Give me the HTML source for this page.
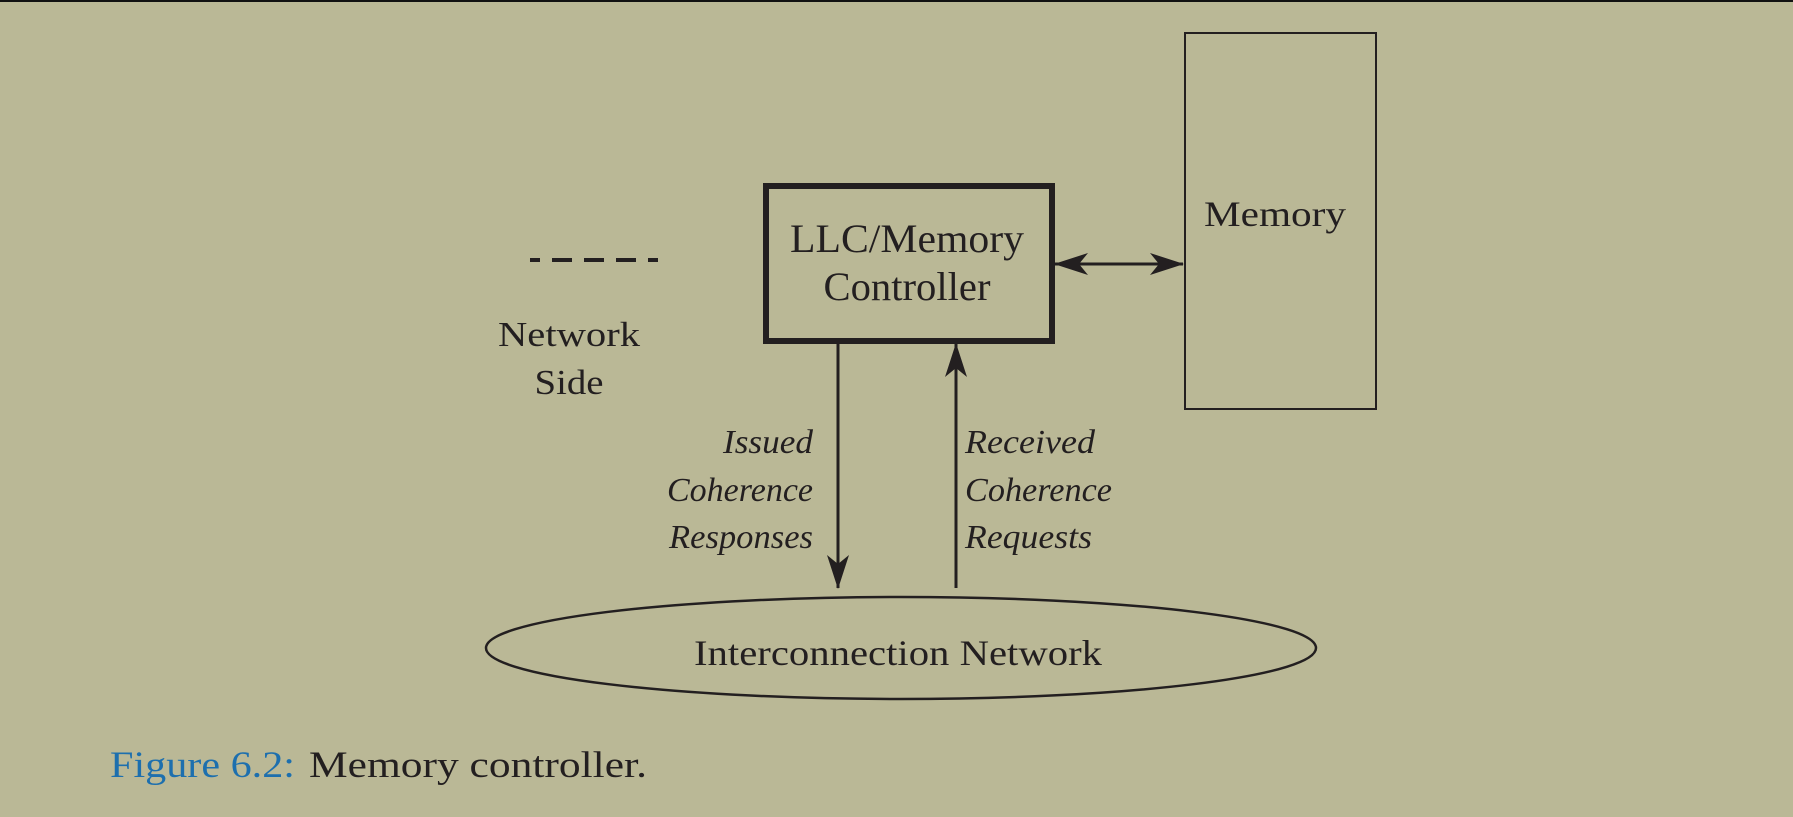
<!DOCTYPE html>
<html><head><meta charset="utf-8"><style>
html,body{margin:0;padding:0;background:#bab896;}
svg{display:block}
text{font-family:"Liberation Serif",serif;fill:#231f20}
</style></head><body>
<svg width="1793" height="817" viewBox="0 0 1793 817" xmlns="http://www.w3.org/2000/svg">
<defs>
<marker id="ah" viewBox="0 0 34 22" refX="33" refY="11" markerWidth="34" markerHeight="22" markerUnits="userSpaceOnUse" orient="auto-start-reverse">
<path d="M0,0 L34,11 L0,22 L9,11 Z" fill="#231f20"/>
</marker>
</defs>
<rect x="0" y="0" width="1793" height="817" fill="#bab896"/>
<rect x="0" y="0" width="1793" height="2" fill="#111"/>
<rect x="766" y="186" width="286" height="155" fill="none" stroke="#231f20" stroke-width="6"/>
<text x="907" y="252" font-size="40" text-anchor="middle" textLength="234" lengthAdjust="spacingAndGlyphs">LLC/Memory</text>
<text x="907" y="300" font-size="40" text-anchor="middle" textLength="167" lengthAdjust="spacingAndGlyphs">Controller</text>
<rect x="1185" y="33" width="191" height="376" fill="none" stroke="#231f20" stroke-width="2"/>
<text x="1275" y="226" font-size="36" text-anchor="middle" textLength="142" lengthAdjust="spacingAndGlyphs">Memory</text>
<line x1="1055" y1="264" x2="1183" y2="264" stroke="#231f20" stroke-width="3" marker-start="url(#ah)" marker-end="url(#ah)"/>
<g fill="#231f20">
<rect x="530" y="258" width="10" height="4"/><rect x="552" y="258" width="20" height="4"/><rect x="584" y="258" width="20" height="4"/><rect x="616" y="258" width="20" height="4"/><rect x="648" y="258" width="10" height="4"/>
</g>
<text x="569" y="346" font-size="35" text-anchor="middle" textLength="142" lengthAdjust="spacingAndGlyphs">Network</text>
<text x="569" y="394" font-size="35" text-anchor="middle" textLength="69" lengthAdjust="spacingAndGlyphs">Side</text>
<line x1="838" y1="344" x2="838" y2="588" stroke="#231f20" stroke-width="3" marker-end="url(#ah)"/>
<line x1="956" y1="588" x2="956" y2="344" stroke="#231f20" stroke-width="3" marker-end="url(#ah)"/>
<g font-style="italic" font-size="34">
<text x="813" y="453" text-anchor="end" textLength="90" lengthAdjust="spacingAndGlyphs">Issued</text>
<text x="813" y="501" text-anchor="end" textLength="146" lengthAdjust="spacingAndGlyphs">Coherence</text>
<text x="813" y="548" text-anchor="end" textLength="144" lengthAdjust="spacingAndGlyphs">Responses</text>
<text x="965" y="453" textLength="130" lengthAdjust="spacingAndGlyphs">Received</text>
<text x="965" y="501" textLength="147" lengthAdjust="spacingAndGlyphs">Coherence</text>
<text x="965" y="548" textLength="127" lengthAdjust="spacingAndGlyphs">Requests</text>
</g>
<ellipse cx="901" cy="648" rx="415" ry="51" fill="none" stroke="#231f20" stroke-width="2.5"/>
<text x="898" y="665" font-size="36" text-anchor="middle" textLength="408" lengthAdjust="spacingAndGlyphs">Interconnection Network</text>
<text x="110" y="777" font-size="37" textLength="185" lengthAdjust="spacingAndGlyphs" style="fill:#1d6fae">Figure 6.2:</text>
<text x="309" y="777" font-size="37" textLength="338" lengthAdjust="spacingAndGlyphs">Memory controller.</text>
</svg>
</body></html>
